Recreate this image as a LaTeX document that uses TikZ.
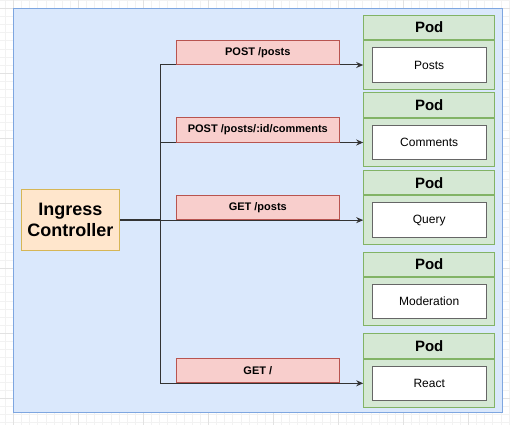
\documentclass[tikz,border=0pt]{standalone}
\usepackage{fontspec}
\setmainfont{Liberation Sans}
\usetikzlibrary{arrows.meta,positioning}

\definecolor{areafill}{HTML}{DAE8FC}
\definecolor{arealine}{HTML}{7EA6E0}
\definecolor{ingfill}{HTML}{FFE6CC}
\definecolor{ingline}{HTML}{D6B656}
\definecolor{routefill}{HTML}{F8CECC}
\definecolor{routeline}{HTML}{B85450}
\definecolor{podfill}{HTML}{D5E8D4}
\definecolor{podline}{HTML}{82B366}
\definecolor{svcline}{HTML}{666666}
\definecolor{linkcol}{HTML}{333333}
\definecolor{gridminor}{HTML}{F2F2F2}
\definecolor{gridmajor}{HTML}{E2E2E2}

\tikzset{
  podhead/.style={draw=podline, fill=podfill, line width=1pt, minimum width=131pt,
    minimum height=24.3pt, inner sep=0pt, font=\bfseries\fontsize{15}{18}\selectfont},
  podbody/.style={draw=podline, fill=podfill, line width=1pt, minimum width=131pt,
    minimum height=48.5pt, inner sep=0pt},
  svc/.style={draw=svcline, fill=white, line width=1pt, minimum width=114pt,
    minimum height=34.6pt, inner sep=0pt, font=\fontsize{12}{14}\selectfont},
  route/.style={draw=routeline, fill=routefill, line width=1pt, minimum width=163pt,
    minimum height=24.3pt, inner sep=0pt, anchor=south, font=\bfseries\fontsize{11}{13}\selectfont},
  ingress/.style={draw=ingline, fill=ingfill, line width=1pt, minimum width=98pt,
    minimum height=61.4pt, inner sep=0pt, align=center, font=\bfseries\fontsize{18}{21}\selectfont},
  link/.style={draw=linkcol, line width=1pt},
  arrowlink/.style={link, -{Stealth[length=7pt, width=6pt]}}
}

\begin{document}
\begin{tikzpicture}[x=1pt, y=-1pt]
  \useasboundingbox (0,0) rectangle (510,425);
  \fill[white] (0,0) rectangle (510,425);

  % canvas grid
  \foreach \i in {-2,...,62}
    \draw[gridminor, line width=0.6pt] ({13.3+\i*8.125},0) -- ++(0,425);
  \foreach \i in {-2,...,52}
    \draw[gridminor, line width=0.6pt] (0,{8.3+\i*8.125}) -- ++(510,0);
  \foreach \k in {-1,...,8}
    \draw[gridmajor, line width=0.8pt] ({13.3+\k*65},0) -- ++(0,425);
  \foreach \k in {-1,...,7}
    \draw[gridmajor, line width=0.8pt] (0,{8.3+\k*65}) -- ++(510,0);

  % cluster area
  \node[draw=arealine, fill=areafill, line width=1pt, minimum width=488.7pt,
        minimum height=404.4pt, inner sep=0pt] (area) at (257.65,210.5) {};

  % ingress controller
  \node[ingress] (ing) at (70.3,220.15) {Ingress\\Controller};

  % pods
  \foreach \n/\y/\s in {1/65/Posts, 2/142.5/Comments, 3/220.15/Query,
                        4/301.65/Moderation, 5/383.3/React} {
    \node[podbody] (pod\n) at (429.2,\y) {};
    \node[podhead, above=0pt of pod\n] (head\n) {Pod};
    \node[svc] (svc\n) at (pod\n) {\s};
  }

  % junctions on the trunk
  \coordinate (j1) at (160.3,65);
  \coordinate (j2) at (160.3,142.5);
  \coordinate (j3) at (160.3,220.15);
  \coordinate (j5) at (160.3,383.3);

  % connectors
  \draw[link] (j1) -- (j5);
  \draw[link, line width=1.6pt] (ing.east) -- (j3);
  \draw[arrowlink] (j1) -- (pod1.west);
  \draw[arrowlink] (j2) -- (pod2.west);
  \draw[arrowlink] (j3) -- (pod3.west);
  \draw[arrowlink] (j5) -- (pod5.west);

  % routes
  \node[route] (r1) at (257.8,65) {POST /posts};
  \node[route] (r2) at (257.8,142.5) {POST /posts/:id/comments};
  \node[route] (r3) at (257.8,220.15) {GET /posts};
  \node[route] (r5) at (257.8,383.3) {GET /};
\end{tikzpicture}
\end{document}
